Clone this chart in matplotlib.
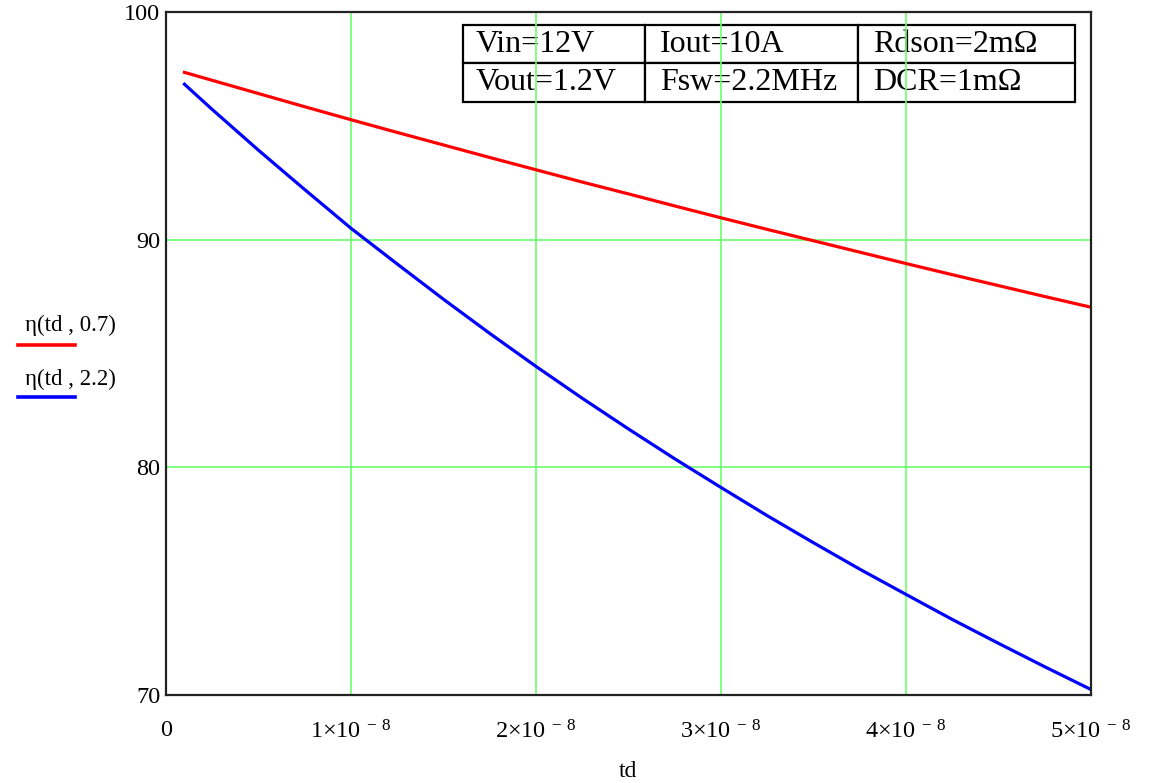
import numpy as np
import matplotlib
matplotlib.use('Agg')
import matplotlib.pyplot as plt
from matplotlib.lines import Line2D

plt.rcParams['font.family'] = ['Liberation Serif', 'DejaVu Serif']
plt.rcParams['mathtext.fontset'] = 'custom'
plt.rcParams['mathtext.rm'] = 'Liberation Serif'
plt.rcParams['mathtext.default'] = 'regular'

# delay time td (s) and efficiency (%)
td = np.array([0.1, 0.25, 0.5, 0.75, 1.0, 1.25, 1.5, 1.75, 2.0, 2.25, 2.5,
               2.75, 3.0, 3.25, 3.5, 3.75, 4.0, 4.25, 4.5, 4.75, 5.0]) * 1e-8
eta_07 = [97.36, 97.01, 96.43, 95.85, 95.28, 94.72, 94.17, 93.62, 93.08, 92.54, 92.02,
          91.49, 90.97, 90.46, 89.96, 89.46, 88.96, 88.47, 87.99, 87.51, 87.04]
eta_22 = [96.84, 95.73, 93.94, 92.21, 90.51, 88.94, 87.39, 85.89, 84.44, 83.04, 81.69,
          80.38, 79.12, 77.88, 76.69, 75.53, 74.42, 73.32, 72.27, 71.24, 70.24]

xticks = np.arange(0, 6) * 1e-8
xticklabels = ['0'] + [r'$%d{\times}10^{\,-\,8}$' % i for i in range(1, 6)]
yticks = [70, 80, 90, 100]

table_text = [['Vin=12V', 'Iout=10A', 'Rdson=2m\u03a9'],
              ['Vout=1.2V', 'Fsw=2.2MHz', 'DCR=1m\u03a9']]
legend_labels = ['\u03b7(td , 0.7)', '\u03b7(td , 2.2)']

fig = plt.figure(figsize=(11.54, 7.83), dpi=100)
ax = fig.add_axes([0.1438, 0.1124, 0.8016, 0.8719])

ax.plot(td, eta_07, color='#ff0000', lw=2.3)
ax.plot(td, eta_22, color='#0000ff', lw=2.3)

ax.set_xlim(0, 5e-8)
ax.set_ylim(70, 100)
ax.set_xticks(xticks)
ax.set_xticklabels(xticklabels)
ax.set_yticks(yticks)
ax.grid(True, color='#6cff6c', lw=1.2)
ax.tick_params(axis='both', length=0, labelsize=17.5)
ax.tick_params(axis='x', pad=18)
ax.tick_params(axis='y', pad=4)
for s in ax.spines.values():
    s.set_linewidth(1.6)
    s.set_color('#222222')
ax.set_xlabel('td', fontsize=17, labelpad=13)

# parameter table in the top right corner
tbl = ax.table(cellText=table_text, cellLoc='left',
               colWidths=[182, 213, 217],
               bbox=[0.321, 0.8686, 0.6616, 0.1128])
tbl.auto_set_font_size(False)
tbl.set_fontsize(23)
for key, cell in tbl.get_celld().items():
    cell.set_linewidth(1.6)
    cell.PAD = 0.07

# legend to the left of the axes
colors = ['#ff0000', '#0000ff']
text_y = [0.585, 0.515]
line_y = [0.559, 0.493]
for lab, c, ty, ly in zip(legend_labels, colors, text_y, line_y):
    fig.text(0.022, ty, lab, fontsize=16.5, va='center', ha='left')
    fig.add_artist(Line2D([0.016, 0.065], [ly, ly], color=c, lw=2.6,
                          transform=fig.transFigure))

fig.savefig('out.png', dpi=100)
